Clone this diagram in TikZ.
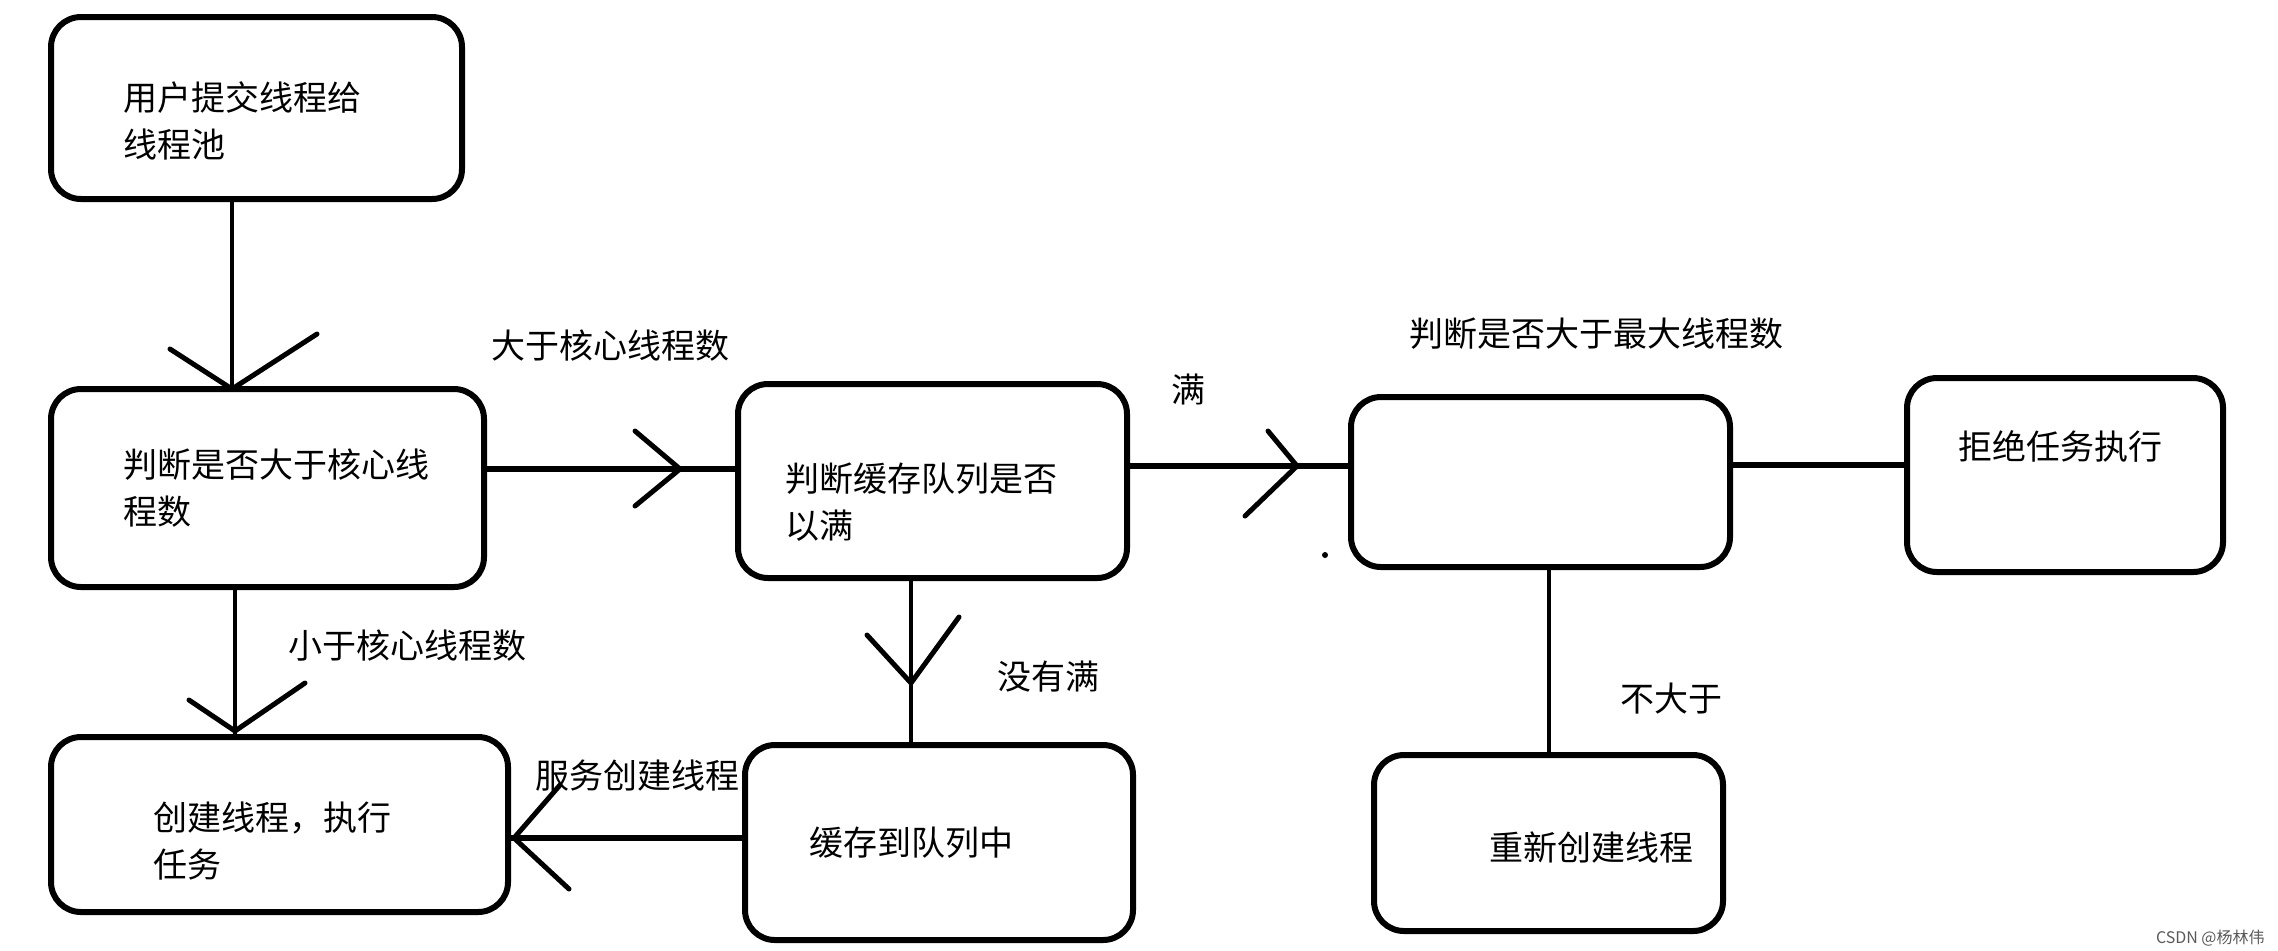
\documentclass[tikz,border=0pt]{standalone}
\usepackage{fontspec}
\newfontfamily\cjk{Noto Sans CJK SC}
\usetikzlibrary{calc}
\begin{document}
\begin{tikzpicture}[x=0.5pt,y=-0.5pt,
  box/.style={draw, line width=3pt, rounded corners=15pt, inner sep=0pt},
  txt/.style={font=\cjk\fontsize{17}{23.5}\selectfont, inner sep=0pt, anchor=west, align=left},
  conn/.style={line width=3pt},
  vconn/.style={line width=2pt},
  barb/.style={line width=2.5pt, line cap=round, line join=round}]
\useasboundingbox (0,0) rectangle (2278,950);
% boxes
\node[box, minimum width=205.5pt, minimum height=91pt]   (b1) at (256.5,108) {};
\node[box, minimum width=216.5pt, minimum height=99pt]   (b2) at (267.5,488) {};
\node[box, minimum width=194.5pt, minimum height=97pt]   (b3) at (932.5,481) {};
\node[box, minimum width=189.5pt, minimum height=85pt]   (b4) at (1540.5,482) {};
\node[box, minimum width=158pt,   minimum height=97pt]   (b5) at (2065,475) {};
\node[box, minimum width=174.5pt, minimum height=88pt]   (b6) at (1548.5,843) {};
\node[box, minimum width=194pt,   minimum height=97.5pt] (b7) at (939,842.5) {};
\node[box, minimum width=228.5pt, minimum height=87.5pt] (b8) at (279.5,824.5) {};
% box texts
\node[txt] (t1) at (123,121) {用户提交线程给\\线程池};
\node[txt] (t2) at (123,488) {判断是否大于核心线\\程数};
\node[txt] (t3) at (785,502) {判断缓存队列是否\\以满};
\node[txt] (t5) at (1958,446) {拒绝任务执行};
\node[txt] (t6) at (1489,847) {重新创建线程};
\node[txt] (t7) at (809,843) {缓存到队列中};
\node[txt] (t8) at (153,841) {创建线程，执行\\任务};
% labels
\node[txt] (l1) at (491,346) {大于核心线程数};
\node[txt] (l2) at (1171,389) {满};
\node[txt] (l3) at (1409,334) {判断是否大于最大线程数};
\node[txt] (l4) at (1620,699) {不大于};
\node[txt] (l5) at (997,677) {没有满};
\node[txt] (l6) at (535,776) {服务创建线程};
\node[txt] (l7) at (288,646) {小于核心线程数};
% helper coordinates
\coordinate (xA1) at (232,0);
\coordinate (yA2) at (0,469);
\coordinate (yA3) at (0,466);
\coordinate (yL1) at (0,465);
\coordinate (xL2) at (1549,0);
\coordinate (xA4) at (911,0);
\coordinate (yA5) at (0,838);
\coordinate (xA6) at (235,0);
% connectors
\draw[vconn] (b1.south -| xA1) -- (b2.north -| xA1);
\draw[conn]  (b2.east |- yA2) -- (b3.west |- yA2);
\draw[conn]  (b3.east |- yA3) -- (b4.west |- yA3);
\draw[conn]  (b4.east |- yL1) -- (b5.west |- yL1);
\draw[vconn] (b4.south -| xL2) -- (b6.north -| xL2);
\draw[vconn] (b3.south -| xA4) -- (b7.north -| xA4);
\draw[conn]  (b7.west |- yA5) -- (b8.east |- yA5);
\draw[vconn] (b2.south -| xA6) -- (b8.north -| xA6);
% hand-drawn arrow heads
\coordinate (tA1) at (232,389);
\coordinate (tA2) at (680,469);
\coordinate (tA3) at (1297,466);
\coordinate (tA4) at (911,683);
\coordinate (tA5) at (514,838);
\coordinate (tA6) at (235,731);
\draw[barb] (tA1) ++(-62,-40) -- (tA1) -- ++(85,-55);
\draw[barb] (tA2) ++(-45,-38) -- (tA2) -- ++(-45,37);
\draw[barb] (tA3) ++(-29,-35) -- (tA3) -- ++(-52,50);
\draw[barb] (tA4) ++(-44,-48) -- (tA4) -- ++(48,-66);
\draw[barb] (tA5) ++(46,-53) -- (tA5) -- ++(55,51);
\draw[barb] (tA6) ++(-46,-31) -- (tA6) -- ++(70,-48);
% stray dot
\fill (1325,555) circle[radius=1.5pt];
% watermark
\node[font=\cjk\fontsize{8}{9}\selectfont, text=black!65, inner sep=0pt, anchor=east] (wm) at (2265,938) {CSDN @杨林伟};
\end{tikzpicture}
\end{document}
